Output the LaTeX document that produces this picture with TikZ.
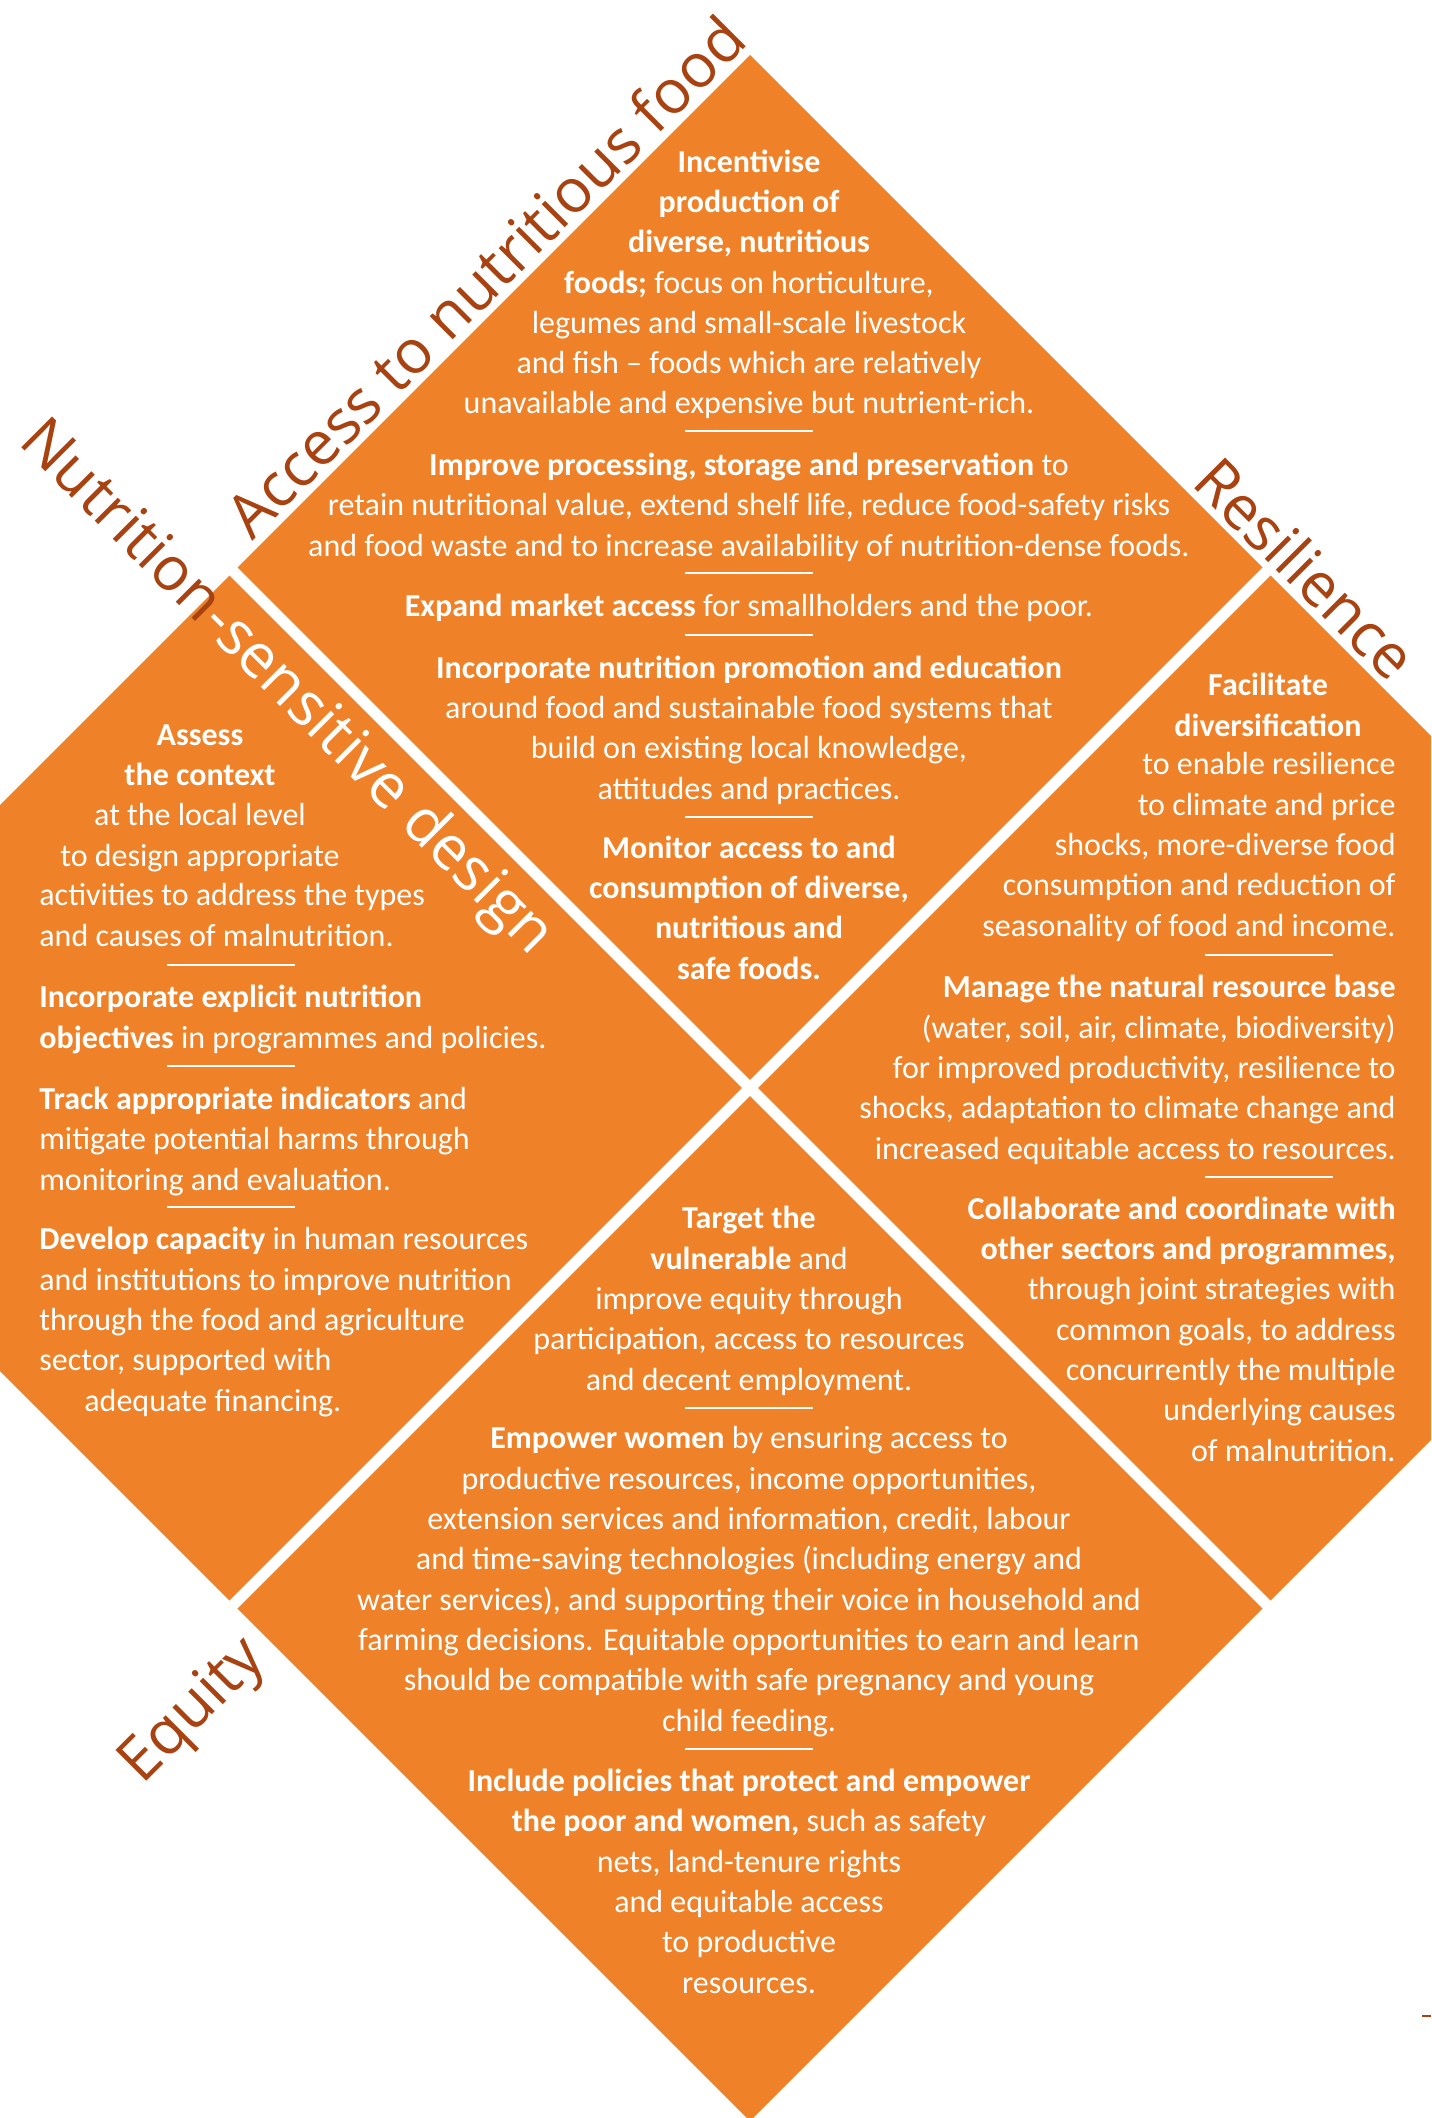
\documentclass[tikz,border=0pt]{standalone}
\usepackage{fontspec}
\setmainfont{Carlito}
\newfontfamily\labelfont{Open Sans}

\definecolor{fao}{RGB}{239,130,41}
\definecolor{rust}{RGB}{168,66,16}

\tikzset{
  txt/.style={text=white, inner sep=0pt, font=\fontsize{16}{20.15}\selectfont},
  side/.style={inner sep=0pt, text=rust, font=\labelfont\fontsize{30.5}{36}\selectfont},
  sepline/.style={white, line width=1pt},
  gap/.style={white, line width=5.5pt},
}

\begin{document}
\begin{tikzpicture}[x=0.5pt,y=-0.5pt]
        \useasboundingbox (0,0) rectangle (1431,2118);
        \clip (0,0) rectangle (1431,2118);

        \fill[fao] (750,55) -- (1783,1088) -- (750,2121) -- (-283,1088) -- cycle;
        \draw[gap] (200,538) -- (1300,1638);
        \draw[gap] (1300,538) -- (200,1638);

        % paragraphs sit on the baseline of their last line
        % top: access to nutritious food
        \node[txt, align=center, anchor=base] (incent) at (749,414) {\textbf{Incentivise}\\ \textbf{production of}\\ \textbf{diverse, nutritious}\\ \textbf{foods;} focus on horticulture,\\ legumes and small-scale livestock\\ and fish -- foods which are relatively\\ unavailable and expensive but nutrient-rich.};
        \node[txt, align=center, anchor=base] (process) at (749,556) {\textbf{Improve processing, storage and preservation} to\\ retain nutritional value, extend shelf life, reduce food-safety risks\\ and food waste and to increase availability of nutrition-dense foods.};
        \node[txt, align=center, anchor=base] (market) at (749,616) {\textbf{Expand market access} for smallholders and the poor.};
        \node[txt, align=center, anchor=base] (promo) at (749,799) {\textbf{Incorporate nutrition promotion and education}\\ around food and sustainable food systems that\\ build on existing local knowledge,\\ attitudes and practices.};
        \node[txt, align=center, anchor=base] (monitor) at (749,979) {\textbf{Monitor access to and}\\ \textbf{consumption of diverse,}\\ \textbf{nutritious and}\\ \textbf{safe foods.}};

        % left: nutrition-sensitive design
        \node[txt, align=center, anchor=base] (assess) at (200,866) {\textbf{Assess}\\ \textbf{the context}\\ at the local level\\ to design appropriate};
        \node[txt, align=left, anchor=base west] (assess2) at (39,946) {activities to address the types\\ and causes of malnutrition.};
        \node[txt, align=left, anchor=base west] (objectives) at (39,1048) {\textbf{Incorporate explicit nutrition}\\ \textbf{objectives} in programmes and policies.};
        \node[txt, align=left, anchor=base west] (track) at (39,1190) {\textbf{Track appropriate indicators} and\\ mitigate potential harms through\\ monitoring and evaluation.};
        \node[txt, align=left, anchor=base west] (capacity) at (39,1411) {\textbf{Develop capacity} in human resources\\ and institutions to improve nutrition\\ through the food and agriculture\\ sector, supported with\\ \hspace*{22.5pt}adequate financing.};

        % right: resilience
        \node[txt, align=center, anchor=base] (divers) at (1268,736) {\textbf{Facilitate}\\ \textbf{diversification}};
        \node[txt, align=right, anchor=base east] (divers2) at (1396,936) {to enable resilience\\ to climate and price\\ shocks, more-diverse food\\ consumption and reduction of\\ seasonality of food and income.};
        \node[txt, align=right, anchor=base east] (manage) at (1396,1159) {\textbf{Manage the natural resource base}\\ (water, soil, air, climate, biodiversity)\\ for improved productivity, resilience to\\ shocks, adaptation to climate change and\\ increased equitable access to resources.};
        \node[txt, align=right, anchor=base east] (collab) at (1396,1461) {\textbf{Collaborate and coordinate with}\\ \textbf{other sectors and programmes,}\\ through joint strategies with\\ common goals, to address\\ concurrently the multiple\\ underlying causes\\ of malnutrition.};

        % bottom: equity
        \node[txt, align=center, anchor=base] (target) at (749,1390) {\textbf{Target the}\\ \textbf{vulnerable} and\\ improve equity through\\ participation, access to resources\\ and decent employment.};
        \node[txt, align=center, anchor=base] (women) at (749,1731) {\textbf{Empower women} by ensuring access to\\ productive resources, income opportunities,\\ extension services and information, credit, labour\\ and time-saving technologies (including energy and\\ water services), and supporting their voice in household and\\ farming decisions. Equitable opportunities to earn and learn\\ should be compatible with safe pregnancy and young\\ child feeding.};
        \node[txt, align=center, anchor=base] (policies) at (749,1993) {\textbf{Include policies that protect and empower}\\ \textbf{the poor and women,} such as safety\\ nets, land-tenure rights\\ and equitable access\\ to productive\\ resources.};

        % short rules between the paragraphs
        \foreach \x/\y in {749/431, 749/573, 749/635, 749/817, 231/965, 231/1066, 231/1207, 1269/955, 1269/1177, 749/1408, 749/1749}
          \draw[sepline] (\x-64,\y) -- (\x+64,\y);

        % headings round the diamond
        \node[side, rotate=45] (access) at (485,276) {Access to nutritious food};
        \node[side, rotate=-45, anchor=base west] (nsd) at (17,443) {Nutrition};
        \node[side, text=white, rotate=-45, anchor=base west] (nsd2) at (nsd.base east) {-sensitive design};
        \node[side, rotate=-45] (resil) at (1306,568) {Resilience};
        \node[side, rotate=45] (equity) at (194,1712) {Equity};

        \draw[rust, line width=1pt] (1422,2016) -- (1431,2016);
\end{tikzpicture}
\end{document}
